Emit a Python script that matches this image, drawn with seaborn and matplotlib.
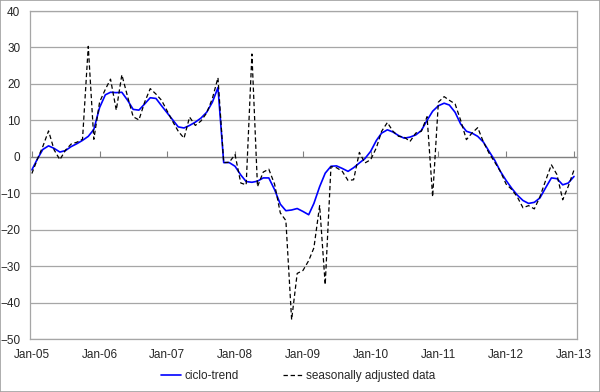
import numpy as np
import pandas as pd
import matplotlib
matplotlib.use("Agg")
import matplotlib.pyplot as plt
import matplotlib.dates as mdates
from matplotlib.lines import Line2D
from matplotlib.patches import Rectangle
import seaborn as sns

# ── DATA ──────────────────────────────────────────────────────────────────────
months = pd.date_range("2005-01-01", "2013-01-01", freq="MS")

ciclo_trend = [
    -3.6, -0.5, 2.0, 3.0, 2.3, 1.3, 1.7, 2.8, 3.6, 4.5, 5.6, 7.5,       # 2005
    13.5, 17.0, 17.7, 17.6, 17.7, 15.5, 13.0, 12.8, 14.5, 16.2, 16.0, 14.0,  # 2006
    12.0, 10.0, 8.2, 7.9, 8.6, 9.5, 10.6, 12.2, 15.0, 19.0, -1.6, -1.6,  # 2007
    -2.6, -5.0, -6.8, -7.0, -6.7, -5.8, -5.8, -9.0, -13.0, -14.8, -14.6, -14.2,  # 2008
    -15.0, -15.9, -12.8, -8.2, -4.5, -2.6, -2.5, -3.2, -4.0, -3.0, -1.7, -0.5,  # 2009
    1.5, 4.5, 6.5, 7.4, 6.8, 5.8, 5.1, 5.4, 6.0, 7.2, 10.0, 12.5,        # 2010
    14.0, 14.7, 14.2, 12.2, 9.0, 7.0, 6.5, 5.6, 4.0, 1.5, -1.0, -4.0,    # 2011
    -6.5, -8.7, -10.5, -12.0, -12.8, -12.5, -11.3, -8.5, -5.8, -6.0, -7.7, -7.2,  # 2012
    -5.4,                                                                # Jan-13
]

seasonally_adjusted = [
    -4.6, -0.5, 2.8, 7.1, 1.9, -0.8, 1.8, 3.5, 4.0, 4.8, 30.3, 4.8,
    15.0, 18.5, 21.3, 12.8, 22.5, 16.5, 11.0, 10.1, 15.0, 18.7, 17.2, 15.5,
    12.5, 9.5, 7.0, 5.1, 10.9, 8.6, 9.8, 12.0, 16.0, 21.7, -1.6, -1.5,
    0.6, -7.2, -7.7, 28.2, -8.2, -4.2, -3.4, -7.5, -15.4, -17.5, -44.7, -32.0,
    -31.2, -28.5, -25.0, -13.4, -35.1, -2.7, -3.0, -4.0, -6.5, -6.3, 1.2, -1.7,
    -0.8, 2.5, 7.0, 9.4, 7.0, 5.6, 5.4, 4.2, 6.5, 7.0, 11.0, -11.0,
    15.0, 16.5, 15.5, 14.5, 10.0, 4.7, 6.5, 8.0, 4.0, 1.0, -1.5, -4.0,
    -7.5, -9.0, -11.0, -14.0, -13.4, -14.3, -11.0, -6.5, -2.2, -4.9, -11.8, -8.1,
    -3.6,
]

SERIES = ["ciclo-trend", "seasonally adjusted data"]
YMIN, YMAX = -50, 40

# ── PLOT ──────────────────────────────────────────────────────────────────────
sns.set_style("white")
plt.rcParams["font.family"] = ["Liberation Sans", "DejaVu Sans"]

df = pd.DataFrame({
    "month": np.concatenate([months, months]),
    "value": ciclo_trend + seasonally_adjusted,
    "series": [SERIES[0]] * len(months) + [SERIES[1]] * len(months),
})

fig = plt.figure(figsize=(6.0, 3.92), dpi=100)
ax = fig.add_axes([30 / 600, 1 - 339 / 392, 547 / 600, 328 / 392])

grid_c = "#a6a6a6"
for y in range(YMIN, YMAX + 1, 10):
    ax.axhline(y, color=grid_c, lw=0.9, zorder=0)

sns.lineplot(data=df, x="month", y="value", hue="series", style="series",
             palette={SERIES[0]: "#0000ff", SERIES[1]: "#000000"},
             dashes={SERIES[0]: "", SERIES[1]: (3.5, 2.2)},
             size="series", sizes={SERIES[0]: 1.2, SERIES[1]: 0.9},
             ax=ax, legend=False)

ax.set_ylim(YMIN, YMAX)
ax.set_xlim(pd.Timestamp("2004-12-22"), pd.Timestamp("2013-01-17"))
ax.set_yticks(range(YMIN, YMAX + 1, 10))
ax.set_xlabel(""); ax.set_ylabel("")

year_ticks = pd.date_range("2005-01-01", "2013-01-01", freq="YS")
ax.set_xticks(year_ticks)
ax.xaxis.set_major_formatter(mdates.DateFormatter("%b-%y"))
ax.tick_params(axis="x", length=0, pad=7, labelsize=8.5)
ax.tick_params(axis="y", length=0, pad=7, labelsize=8.5)

for s in ax.spines.values():
    s.set_color(grid_c); s.set_linewidth(0.9)

# horizontal axis crosses at zero: tick marks only, no labels
zero_ax = ax.secondary_xaxis(-YMIN / (YMAX - YMIN))
zero_ax.set_xticks(year_ticks)
zero_ax.set_xticklabels([])
zero_ax.tick_params(length=4, direction="out", color="#808080",
                    labelbottom=False, labeltop=False)
for s in zero_ax.spines.values():
    s.set_color("#808080"); s.set_linewidth(0.9)

# legend
handles = [Line2D([], [], color="#0000ff", lw=1.2),
           Line2D([], [], color="#000000", lw=0.9, ls=(0, (3.5, 2.2)))]
fig.legend(handles, SERIES, loc="center", bbox_to_anchor=(0.497, 0.04),
           ncol=2, frameon=False, fontsize=8.5, handlelength=1.7,
           handletextpad=0.25, columnspacing=3.8)

fig.patches.append(Rectangle((0, 0), 1, 1, transform=fig.transFigure,
                             fill=False, edgecolor="#a0a0a0", lw=1.2))

plt.savefig("out.png", dpi=100)
plt.close()
